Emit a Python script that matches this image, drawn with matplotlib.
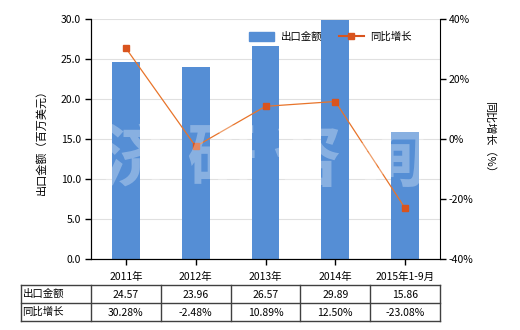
import matplotlib
matplotlib.use("Agg")
import matplotlib.pyplot as plt
from matplotlib.lines import Line2D

plt.rcParams['font.family'] = ['Noto Sans CJK SC', 'DejaVu Sans']

categories = ['2011年', '2012年', '2013年', '2014年', '2015年1-9月']
export_value = [24.57, 23.96, 26.57, 29.89, 15.86]
yoy_growth = [30.28, -2.48, 10.89, 12.50, -23.08]
export_labels = ['24.57', '23.96', '26.57', '29.89', '15.86']
growth_labels = ['30.28%', '-2.48%', '10.89%', '12.50%', '-23.08%']
row_names = ['出口金额', '同比增长']
left_ticks = [0, 5, 10, 15, 20, 25, 30]
right_ticks = [-40, -20, 0, 20, 40]

W, H = 520, 330
fig = plt.figure(figsize=(W / 100, H / 100), dpi=100)
ax = fig.add_axes([91 / W, (H - 259) / H, (440 - 91) / W, (259 - 19) / H])
ax2 = ax.twinx()

bar_color = '#558ed5'
line_color = '#e8742a'
marker_color = '#d9541e'
fs = 7.5

x = list(range(len(categories)))
ax.bar(x, export_value, width=0.4, color=bar_color, zorder=2, label='出口金额')
ax.set_xlim(-0.5, len(categories) - 0.5)
ax.set_ylim(0, 30)
ax.set_yticks(left_ticks)
ax.set_yticklabels([f'{v:.1f}' for v in left_ticks], fontsize=fs)
ax.set_xticks(x)
ax.set_xticklabels(categories, fontsize=fs)
ax.grid(axis='y', color='#e0e0e0', linewidth=0.8, zorder=0)
ax.set_axisbelow(True)
ax.tick_params(axis='both', direction='out', length=4, width=1, colors='black', pad=3)
ax.tick_params(axis='x', pad=5)
for s in ['top']:
    ax.spines[s].set_visible(False)
    ax2.spines[s].set_visible(False)
ax.spines['right'].set_visible(False)
ax.set_ylabel('出口金额（百万美元）', fontsize=fs + 0.5, labelpad=10)

ax2.plot(x, yoy_growth, color=line_color, linewidth=0.9, marker='s', markersize=5,
         markerfacecolor=marker_color, markeredgecolor=marker_color, zorder=3, label='同比增长')
ax2.set_ylim(-40, 40)
ax2.set_yticks(right_ticks)
ax2.set_yticklabels([f'{v}%' for v in right_ticks], fontsize=fs)
ax2.tick_params(axis='y', direction='out', length=4, width=1, pad=2)
ax2.set_ylabel('同比增长（%）', fontsize=fs + 0.5, rotation=-90, labelpad=16)

# watermark
fig.text(265 / W, 1 - 160 / H, '济 研 咨 询', fontsize=50, color='white', alpha=0.3,
         ha='center', va='center', fontweight='bold', zorder=10)

# legend
handles = [plt.Rectangle((0, 0), 1, 1, color=bar_color),
           Line2D([0], [0], color=marker_color, linewidth=1.5, marker='s', markersize=4)]
ax2.legend(handles, ['出口金额', '同比增长'], loc='upper right', bbox_to_anchor=(0.945, 0.985),
           ncol=2, frameon=False, fontsize=fs, handlelength=2.4, handleheight=1.0,
           columnspacing=1.6, handletextpad=0.6)

# table
y_top, y_mid, y_bot = 285, 302.5, 320.5
x_left = 20.5
edges = []
fig.canvas.draw()
for i in range(len(categories) + 1):
    px = ax.transData.transform((i - 0.5, 0))[0]
    edges.append(px)
col_edges = [x_left] + edges

def fx(px):
    return px / W

def fy(py):
    return 1 - py / H

lc = '#404040'
for yy in [y_top, y_mid, y_bot]:
    fig.add_artist(Line2D([fx(col_edges[0]), fx(col_edges[-1])], [fy(yy), fy(yy)],
                          color=lc, linewidth=1))
for xx in col_edges:
    fig.add_artist(Line2D([fx(xx), fx(xx)], [fy(y_top), fy(y_bot)], color=lc, linewidth=1))

rows = [export_labels, growth_labels]
row_y = [(y_top + y_mid) / 2, (y_mid + y_bot) / 2]
for r, (name, vals) in enumerate(zip(row_names, rows)):
    fig.text(fx(x_left + 2), fy(row_y[r]), name, fontsize=fs, ha='left', va='center')
    for i, v in enumerate(vals):
        cx = (col_edges[i + 1] + col_edges[i + 2]) / 2
        fig.text(fx(cx), fy(row_y[r] + 1), v, fontsize=fs, ha='center', va='center')

fig.savefig('out.png', dpi=100)
